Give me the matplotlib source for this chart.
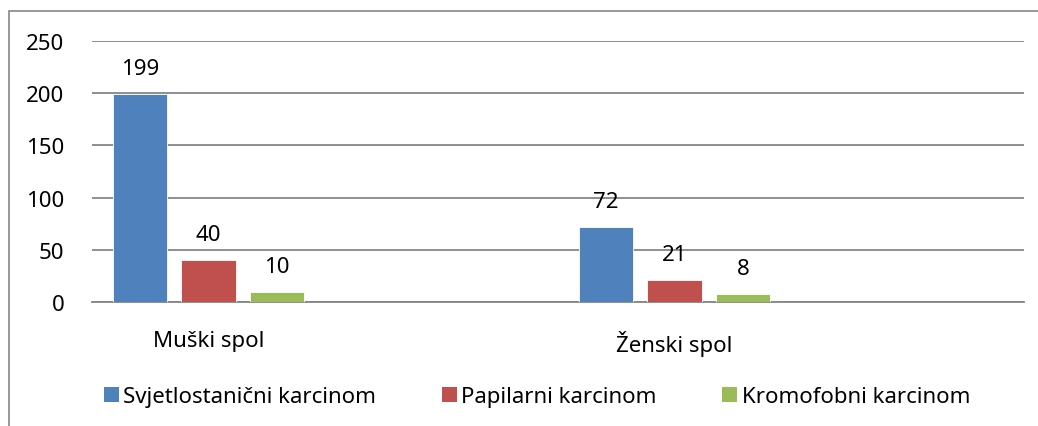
import matplotlib
matplotlib.use("Agg")
import matplotlib.pyplot as plt
from matplotlib.patches import Rectangle, Patch
import numpy as np

categories = ["Muški spol", "Ženski spol"]
series_names = ["Svjetlostanični karcinom", "Papilarni karcinom", "Kromofobni karcinom"]
values_svjetlo = [199, 72]
values_papil = [40, 21]
values_kromo = [10, 8]
colors = ["#4F81BD", "#C0504D", "#9BBB59"]
yticks = [0, 50, 100, 150, 200, 250]

plt.rcParams['font.family'] = ['Noto Sans', 'DejaVu Sans']
FS = 16

fig = plt.figure(figsize=(10.38, 4.27), dpi=100)
ax = fig.add_axes([92/1038, 1-303.3/427, (1024-92)/1038, (303.3-41.7)/427])

bar_w = 0.117
step = 0.147
start = 0.044
idx = np.arange(len(categories))
all_vals = [values_svjetlo, values_papil, values_kromo]
for k, (vals, c, name) in enumerate(zip(all_vals, colors, series_names)):
    xs = idx + start + bar_w/2 + k*step
    ax.bar(xs, vals, width=bar_w, color=c, edgecolor='white', linewidth=0.6, label=name, zorder=3)
    for x, v in zip(xs, vals):
        ax.annotate(str(v), (x, v), xytext=(0, 11), textcoords='offset points',
                    ha='center', va='bottom', fontsize=FS)

ax.set_xlim(0, len(categories))
ax.set_ylim(0, 250)
ax.set_yticks(yticks)
ax.set_yticklabels([str(t) for t in yticks], fontsize=FS)
ax.yaxis.grid(True, color='#868686', linewidth=1.3, zorder=0)
ax.set_axisbelow(True)
group_centers = idx + start + (2*step + bar_w)/2
ax.set_xticks(group_centers)
ax.set_xticklabels(categories, fontsize=FS)
ax.tick_params(axis='x', length=0, pad=20)
ax.tick_params(axis='y', length=0, pad=20)
for s in ['top', 'right', 'left']:
    ax.spines[s].set_visible(False)
ax.spines['bottom'].set_color('#868686')
ax.spines['bottom'].set_linewidth(1.3)

handles = [Patch(facecolor=c, edgecolor='none') for c in colors]
fig.legend(handles, series_names, loc='center', bbox_to_anchor=(537/1038, 1-398/427),
           ncol=3, frameon=False, fontsize=FS, handlelength=0.68, handleheight=0.68,
           handletextpad=0.2, columnspacing=2.95)

fig.patches.append(Rectangle((9/1038, -0.1), 1.2, 1 - 11.5/427 + 0.1, transform=fig.transFigure,
                             fill=False, edgecolor='#868686', linewidth=1.2))

fig.savefig("out.png", dpi=100)
